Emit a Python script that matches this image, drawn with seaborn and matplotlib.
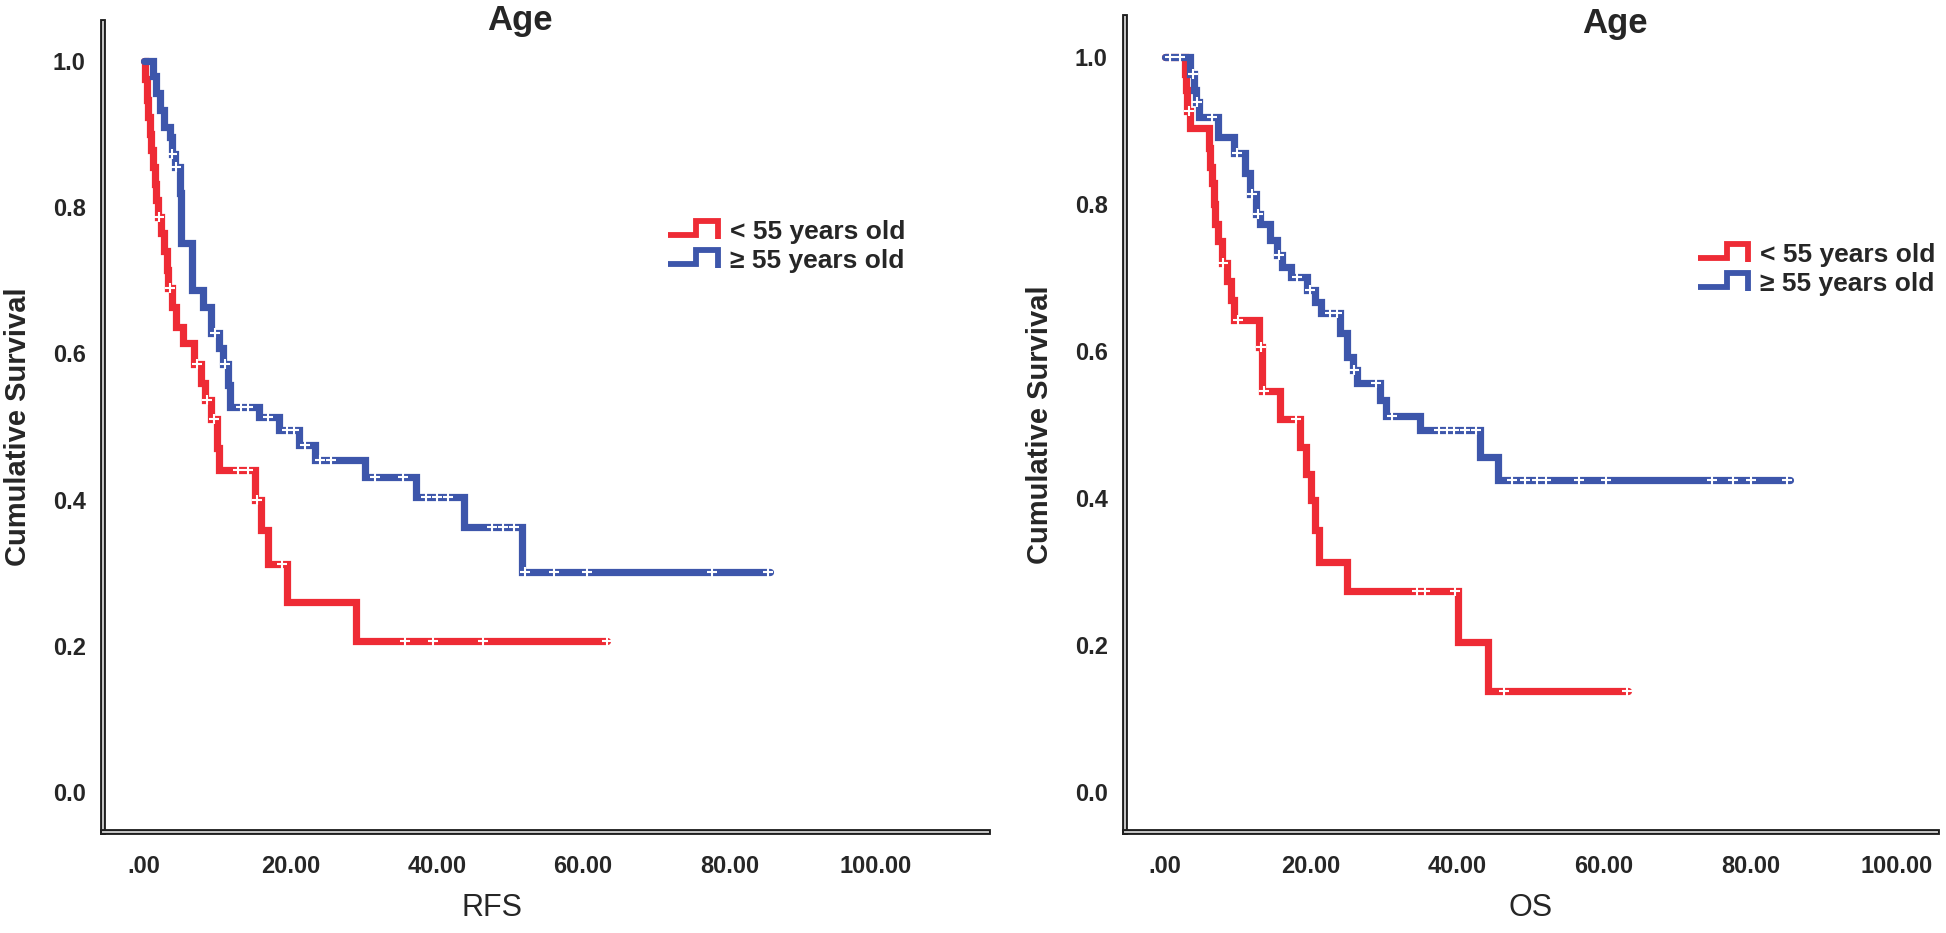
import numpy as np
import pandas as pd
import matplotlib
matplotlib.use("Agg")
import matplotlib.pyplot as plt
import matplotlib.patheffects as pe
from matplotlib.lines import Line2D
from matplotlib.legend_handler import HandlerBase
import seaborn as sns

# ---- data (months, cumulative survival) ----
group_labels = ["< 55 years old", "\u2265 55 years old"]
group_colors = ["#EE2B35", "#3D56AB"]

# RFS, < 55 years old
rfs_young_t = [0.2, 0.4, 0.6, 0.8, 1.0, 1.3, 1.5, 1.7, 1.9, 2.3, 2.8, 3.1, 3.3, 3.9, 4.4, 5.3,
               6.9, 7.8, 8.4, 9.2, 10.0, 10.2, 15.2, 16.0, 17.0, 19.6, 29.0]
rfs_young_s = [0.975, 0.947, 0.924, 0.90, 0.878, 0.855, 0.832, 0.81, 0.787, 0.764, 0.74, 0.714,
               0.69, 0.664, 0.636, 0.614, 0.586, 0.559, 0.536, 0.51, 0.47, 0.44, 0.40, 0.358,
               0.312, 0.26, 0.207]
rfs_young_cens = [2.0, 3.5, 7.2, 8.6, 9.6, 12.8, 14.2, 15.5, 18.8, 35.7, 39.5, 46.3, 63.2]
rfs_young_end = 63.3

# RFS, >= 55 years old
rfs_old_t = [1.2, 1.7, 2.2, 2.8, 3.6, 3.8, 4.2, 4.9, 5.0, 5.1, 6.5, 6.6, 8.0, 9.1, 9.2, 10.2,
             10.8, 11.5, 11.8, 15.7, 18.4, 21.2, 23.3, 30.2, 37.1, 43.7, 51.7]
rfs_old_s = [0.979, 0.956, 0.933, 0.91, 0.896, 0.873, 0.855, 0.82, 0.79, 0.751, 0.72, 0.687,
             0.664, 0.645, 0.628, 0.607, 0.586, 0.557, 0.527, 0.513, 0.495, 0.474, 0.454,
             0.431, 0.403, 0.363, 0.301]
rfs_old_cens = [3.9, 4.4, 9.7, 11.1, 13.3, 14.2, 17.0, 19.5, 20.5, 22.0, 24.0, 25.5, 31.5,
                35.4, 38.5, 40.0, 41.5, 47.5, 49.0, 50.5, 52.1, 56.0, 60.5, 77.6, 85.2]
rfs_old_end = 85.5

# OS, < 55 years old
os_young_t = [2.7, 2.9, 3.0, 3.5, 6.0, 6.2, 6.4, 6.7, 6.9, 7.3, 7.8, 8.5, 9.0, 9.5, 12.9,
              13.3, 15.8, 18.5, 19.3, 20.0, 20.5, 21.0, 24.9, 40.1, 44.2]
os_young_s = [0.977, 0.955, 0.926, 0.903, 0.876, 0.85, 0.828, 0.80, 0.773, 0.75, 0.72, 0.695,
              0.67, 0.642, 0.605, 0.546, 0.508, 0.47, 0.433, 0.397, 0.356, 0.313, 0.274,
              0.204, 0.138]
os_young_cens = [3.3, 8.0, 10.0, 13.1, 13.5, 17.9, 34.4, 35.6, 39.7, 46.3, 63.2]
os_young_end = 63.3

# OS, >= 55 years old
os_old_t = [3.4, 4.0, 4.2, 4.7, 7.3, 9.4, 11.0, 11.7, 12.5, 13.0, 14.4, 15.3, 16.0, 17.2, 19.4,
            20.5, 21.3, 23.9, 24.9, 25.7, 26.2, 29.4, 30.2, 34.8, 43.0, 45.5]
os_old_s = [0.977, 0.955, 0.939, 0.918, 0.891, 0.869, 0.842, 0.814, 0.787, 0.773, 0.751, 0.73,
            0.714, 0.70, 0.683, 0.666, 0.651, 0.624, 0.592, 0.574, 0.556, 0.533, 0.512, 0.492,
            0.456, 0.424]
os_old_cens = [0.7, 2.1, 3.8, 4.4, 6.5, 9.8, 11.9, 12.8, 15.6, 18.0, 19.8, 22.6, 23.5, 25.9,
               28.8, 31.0, 37.5, 38.5, 39.5, 41.0, 42.5, 47.5, 49.2, 50.8, 52.1, 56.6, 60.3,
               74.7, 77.6, 80.1, 85.0]
os_old_end = 85.4

x_ticks = [0, 20, 40, 60, 80, 100]
x_ticklabels = [".00", "20.00", "40.00", "60.00", "80.00", "100.00"]
y_ticks = [0.0, 0.2, 0.4, 0.6, 0.8, 1.0]
y_ticklabels = ["0.0", "0.2", "0.4", "0.6", "0.8", "1.0"]


def km_frame(times, surv, end):
    return pd.DataFrame({"time": [0.0] + list(times) + [end],
                         "survival": [1.0] + list(surv) + [surv[-1]]})


def censor_frame(times, surv, cens):
    idx = np.searchsorted(np.asarray(times), np.asarray(cens), side="right")
    return pd.DataFrame({"time": cens, "survival": np.r_[1.0, surv][idx]})


class StepHandler(HandlerBase):
    # the little step pictogram SPSS puts in its survival legends
    def create_artists(self, legend, orig_handle, xdescent, ydescent, width, height,
                       fontsize, trans):
        xs = np.array([0.0, 0.55, 0.55, 0.97, 0.97]) * width - xdescent
        ys = np.array([0.22, 0.22, 0.95, 0.95, 0.0]) * height - ydescent
        line = Line2D(xs, ys, color=orig_handle.get_color(), lw=4.2,
                      solid_joinstyle="miter", solid_capstyle="butt")
        line.set_transform(trans)
        return [line]


sns.set_style("white")
plt.rcParams["font.family"] = ["Liberation Sans", "DejaVu Sans"]

fig = plt.figure(figsize=(19.46, 9.33), dpi=100)
# left chart's x axis runs on past 100 (to about 115) before the right chart starts
ax_rfs = fig.add_axes([0.0529, 0.1083, 0.4548, 0.8682])
ax_os = fig.add_axes([0.5781, 0.1083, 0.4173, 0.8735])

panels = [
    (ax_rfs, "RFS", [(rfs_young_t, rfs_young_s, rfs_young_cens, rfs_young_end),
                     (rfs_old_t, rfs_old_s, rfs_old_cens, rfs_old_end)],
     (-5.6, 115.3), (-0.0547, 1.0534), 0.471, 0.990, (0.638, 0.756), 0.44),
    (ax_os, "OS", [(os_young_t, os_young_s, os_young_cens, os_young_end),
                   (os_old_t, os_old_s, os_old_cens, os_old_end)],
     (-5.44, 105.5), (-0.0544, 1.0544), 0.603, 0.980, (0.706, 0.723), 0.5),
]

for ax, xlab, curves, xlim, ylim, title_x, title_y, leg_xy, xlab_x in panels:
    for (t, s, c, end), col in zip(curves, group_colors):
        sns.lineplot(data=km_frame(t, s, end), x="time", y="survival", ax=ax,
                     drawstyle="steps-post", estimator=None, sort=False,
                     color=col, linewidth=5.2, solid_joinstyle="miter")
        sns.scatterplot(data=censor_frame(t, s, c), x="time", y="survival", ax=ax,
                        marker="+", color="white", s=60, linewidth=1.5, zorder=5)

    ax.set_xlim(*xlim)
    ax.set_ylim(*ylim)
    ax.set_xticks(x_ticks)
    ax.set_xticklabels(x_ticklabels)
    ax.set_yticks(y_ticks)
    ax.set_yticklabels(y_ticklabels)
    ax.tick_params(axis="x", direction="out", length=10.8, width=1.6, pad=6,
                   labelsize=17, color="#222222")
    ax.tick_params(axis="y", direction="out", length=9.4, width=1.6, pad=3,
                   labelsize=17, color="#222222")
    for lab in ax.get_xticklabels() + ax.get_yticklabels():
        lab.set_fontweight("bold")

    ax.spines["top"].set_visible(False)
    ax.spines["right"].set_visible(False)
    for side in ["left", "bottom"]:
        sp = ax.spines[side]
        sp.set_linewidth(4.2)
        sp.set_color("#1e1e1e")
        sp.set_capstyle("projecting")
        sp.set_path_effects([pe.Stroke(linewidth=4.2, foreground="#1e1e1e"),
                             pe.Stroke(linewidth=1.4, foreground="#c8c8c8")])

    ax.set_ylabel("Cumulative Survival", fontsize=21, fontweight="bold", labelpad=15)
    ax.set_xlabel(xlab, fontsize=22, labelpad=16)
    ax.xaxis.set_label_coords(xlab_x, -0.075)

    ax.text(title_x, title_y, "Age", transform=ax.transAxes, ha="center",
            va="baseline", fontsize=25, fontweight="bold")

    handles = [Line2D([], [], color=col) for col in group_colors]
    leg = ax.legend(handles=handles, labels=group_labels, loc="upper left",
                    bbox_to_anchor=leg_xy, frameon=False, fontsize=19,
                    handler_map={Line2D: StepHandler()}, handlelength=1.95,
                    handleheight=0.75, handletextpad=0.4, labelspacing=0.2,
                    borderpad=0, borderaxespad=0)
    for txt in leg.get_texts():
        txt.set_fontweight("bold")

fig.savefig("out.png", dpi=100)
